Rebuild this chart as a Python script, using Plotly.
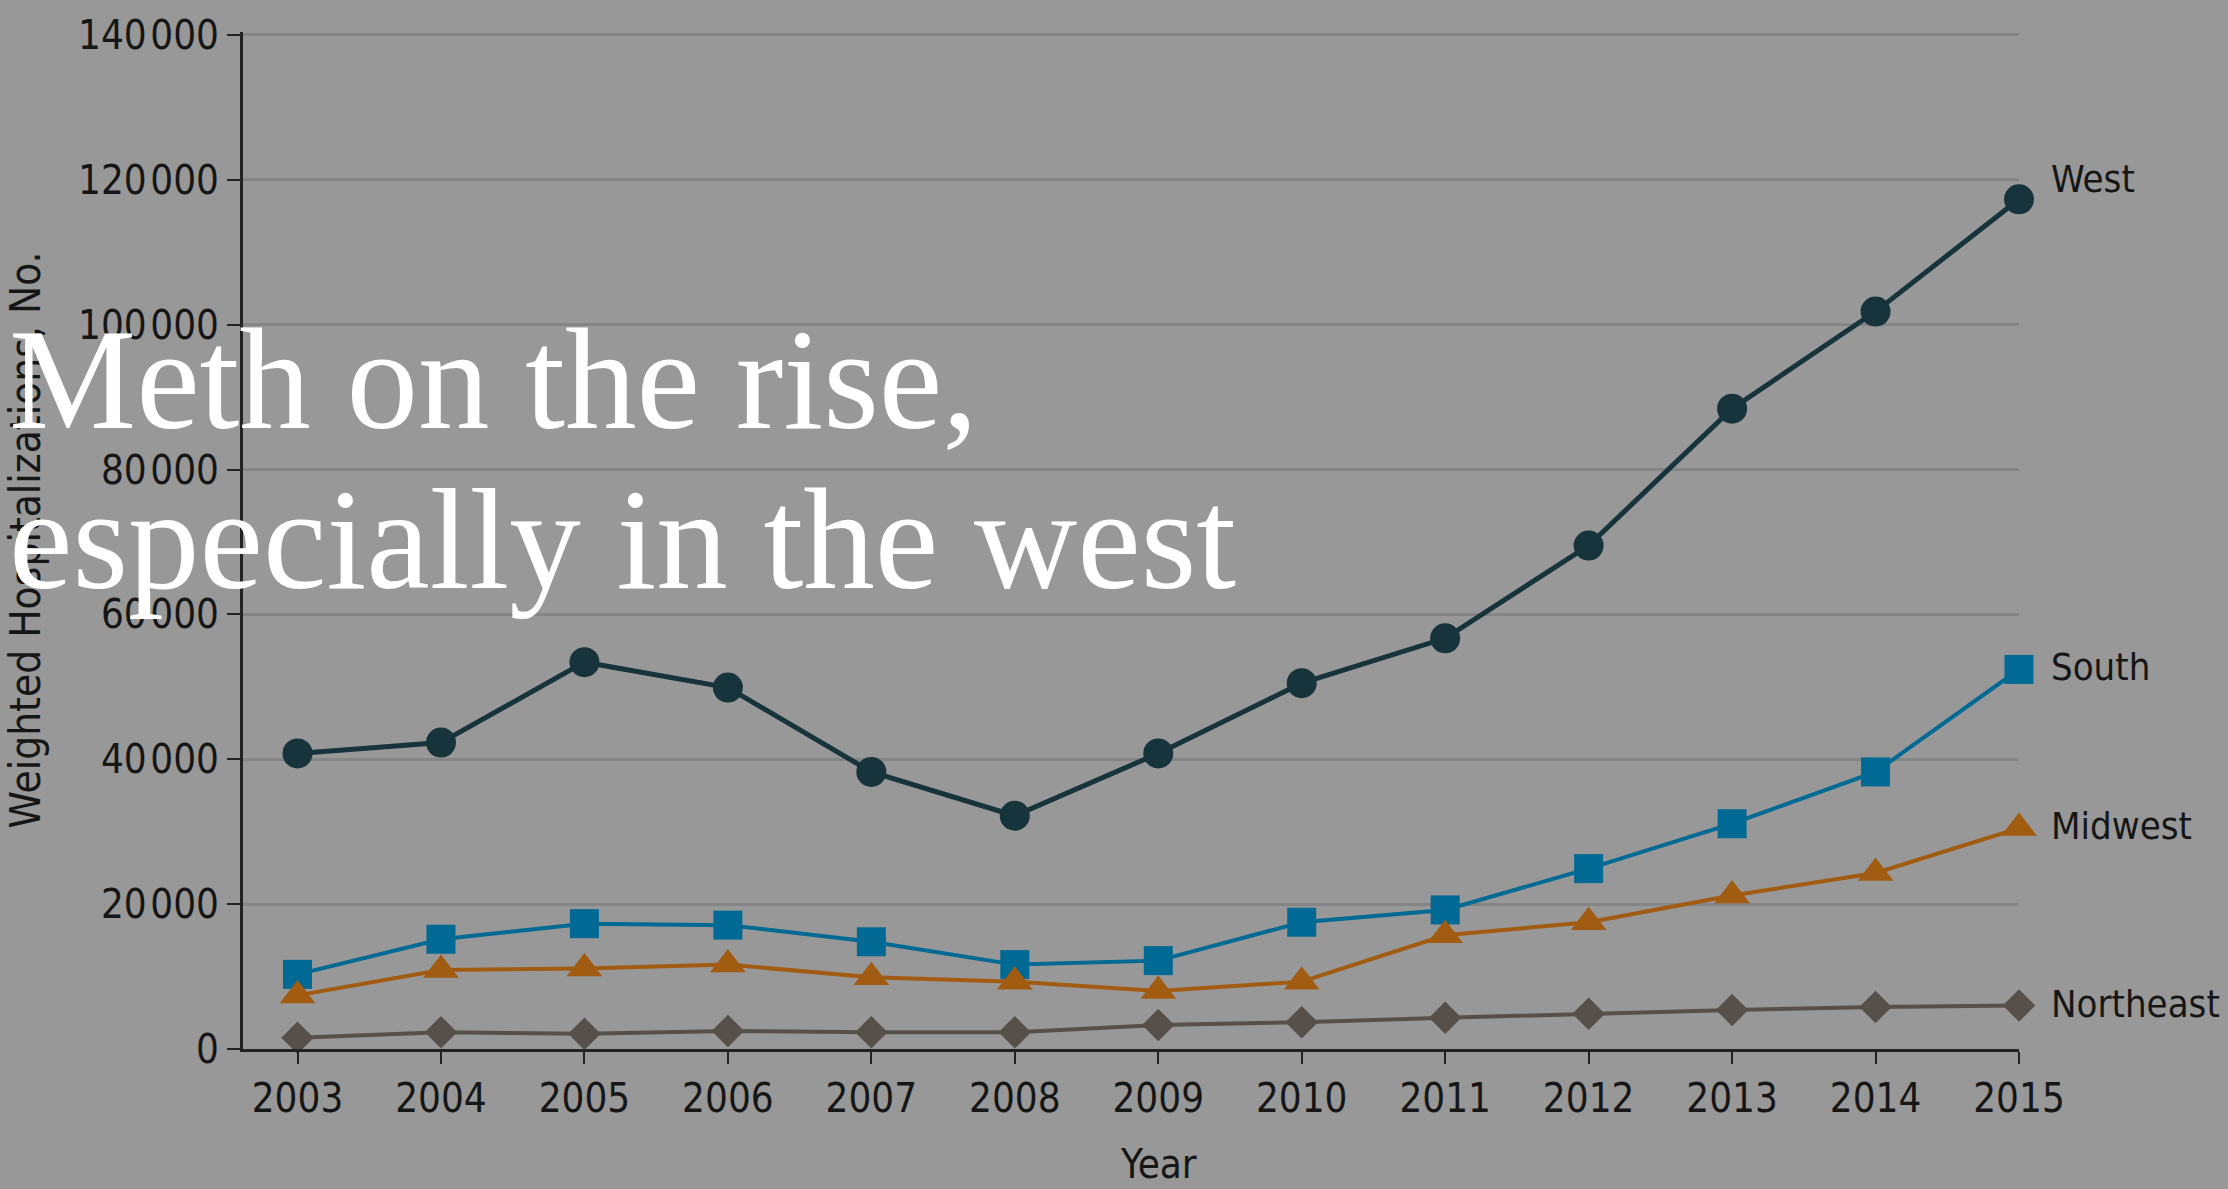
import plotly.graph_objects as go

years = list(range(2003, 2016))
west = [40800, 42300, 53400, 49900, 38250, 32200, 40800, 50500, 56700, 69500, 88400, 101800, 117300]
south = [10300, 15150, 17300, 17100, 14800, 11650, 12200, 17500, 19200, 24900, 31100, 38250, 52400]
midwest = [7400, 10900, 11100, 11650, 9900, 9300, 8000, 9300, 15700, 17500, 21200, 24300, 30500]
northeast = [1550, 2300, 2100, 2500, 2300, 2300, 3300, 3700, 4300, 4850, 5400, 5800, 6000]

y_ticks = [0, 20000, 40000, 60000, 80000, 100000, 120000, 140000]
y_ticktext = ["0", "20\u200a000", "40\u200a000", "60\u200a000", "80\u200a000",
              "100\u200a000", "120\u200a000", "140\u200a000"]

series = [
    ("West", west, "#17333b", "circle", 30, 5),
    ("South", south, "#006994", "square", 29, 4),
    ("Midwest", midwest, "#a25c12", "triangle-up", 31, 4),
    ("Northeast", northeast, "#57504a", "diamond", 25, 4),
]

FONT = "DejaVu Sans Condensed, Liberation Sans Narrow, sans-serif"
TXT = "#161616"
BG = "#989898"

fig = go.Figure()
for name, vals, color, sym, msize, lw in series:
    fig.add_trace(go.Scatter(
        x=years, y=vals, mode="lines+markers", name=name,
        line=dict(color=color, width=lw),
        marker=dict(symbol=sym, size=msize, color=color, line=dict(width=0)),
        cliponaxis=False, showlegend=False,
    ))

annotations = []
for name, vals, color, sym, msize, lw in series:
    annotations.append(dict(
        x=years[-1], y=vals[-1], xref="x", yref="y", text=name, showarrow=False,
        xanchor="left", yanchor="middle", xshift=30, yshift=(20 if name == "West" else 2),
        font=dict(family=FONT, size=38, color=TXT),
    ))

# axis titles
annotations.append(dict(
    x=2009, y=-0.113, xref="x", yref="paper", text="Year", showarrow=False,
    xanchor="center", yanchor="middle", font=dict(family=FONT, size=40, color=TXT),
))
annotations.append(dict(
    x=0, y=0.5, xref="paper", yref="paper", text="Weighted Hospitalizations, No.",
    showarrow=False, textangle=-90, xanchor="center", yanchor="middle", xshift=-218,
    font=dict(family=FONT, size=42, color=TXT),
))

# overlaid headline
TITLE_FONT = dict(family="Liberation Serif, DejaVu Serif, serif", size=143, color="white")
annotations.append(dict(
    x=-0.1329, y=0.6576, xref="paper", yref="paper", text="Meth on the rise,",
    showarrow=False, xanchor="left", yanchor="middle", font=TITLE_FONT,
))
annotations.append(dict(
    x=-0.1329, y=0.5005, xref="paper", yref="paper", text="especially in the west",
    showarrow=False, xanchor="left", yanchor="middle", font=TITLE_FONT,
))

fig.update_layout(
    width=2228, height=1189,
    margin=dict(l=243, r=209, t=21, b=140),
    paper_bgcolor=BG, plot_bgcolor=BG,
    annotations=annotations,
    xaxis=dict(
        range=[2002.62, 2015], tickmode="array", tickvals=years,
        ticktext=[str(y) for y in years],
        showgrid=False, zeroline=False,
        showline=True, linecolor="#222222", linewidth=3,
        ticks="outside", ticklen=12, tickwidth=2, tickcolor="#222222",
        tickfont=dict(family=FONT, size=40, color=TXT),
        ticklabeloverflow="allow",
    ),
    yaxis=dict(
        range=[0, 140400], tickmode="array", tickvals=y_ticks, ticktext=y_ticktext,
        showgrid=True, gridcolor="#858585", gridwidth=3, zeroline=False,
        showline=True, linecolor="#222222", linewidth=3,
        ticks="outside", ticklen=13, tickwidth=2, tickcolor="#222222",
        tickfont=dict(family=FONT, size=40, color=TXT),
        ticklabeloverflow="allow",
    ),
)

fig.write_html(
    "out.html",
    config={"displayModeBar": False},
    post_script="document.body.style.margin='0px';document.body.style.overflow='hidden';",
)
